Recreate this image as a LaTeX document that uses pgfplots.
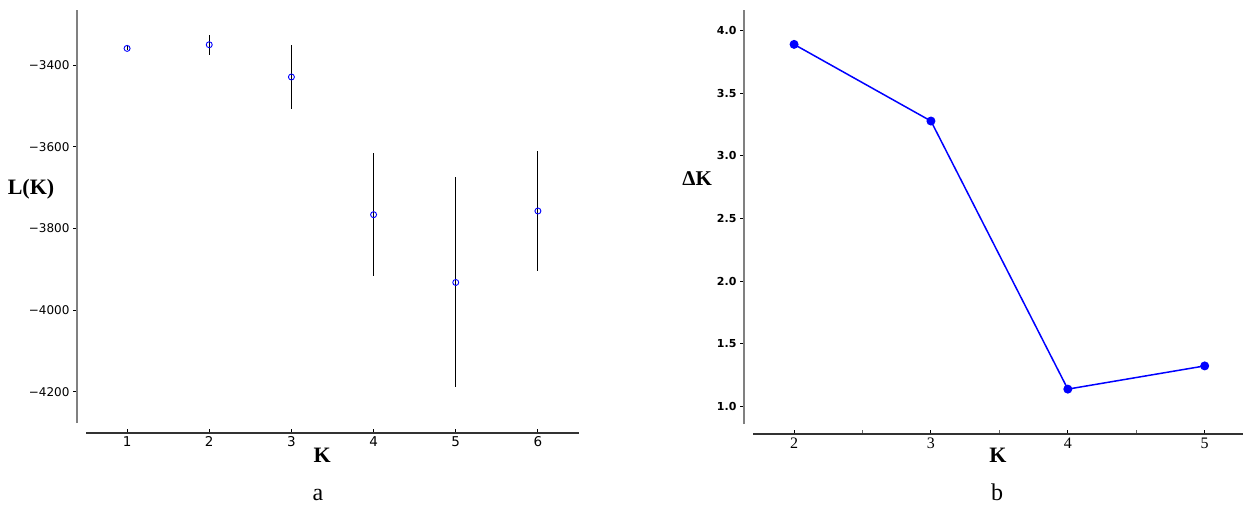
\documentclass[border=0pt]{standalone}
\usepackage{fontspec}
\setmainfont{Liberation Serif}
\newfontfamily\dejavu{DejaVu Sans}
\usepackage{pgfplots}
\pgfplotsset{compat=1.18}

\begin{document}
\begin{tikzpicture}
\path[use as bounding box] (0,0) rectangle (1244pt,507pt);

% panel a: L(K) with error bars
\begin{axis}[
  at={(86pt,84pt)}, anchor=south west, scale only axis,
  width=493pt, height=413pt,
  xmin=0.5, xmax=6.5, ymin=-4276, ymax=-3265,
  axis lines=left, axis x line shift=10pt, axis y line shift=9pt,
  x axis line style={-, black!80, line width=1.3pt},
  y axis line style={-, black!50, line width=1.3pt},
  xtick={1,...,6}, ytick={-4200,-4000,-3800,-3600,-3400},
  yticklabels={−4200,−4000,−3800,−3600,−3400},
  xtick align=inside, ytick align=outside, major tick length=4pt,
  tick style={black, line width=1pt},
  xticklabel style={font=\dejavu\fontsize{13.5}{15}\selectfont},
  yticklabel style={font=\dejavu\fontsize{12}{14}\selectfont},
  /pgf/number format/assume math mode=true,
  xlabel={\bfseries K},
  xlabel style={font=\fontsize{22}{26}\selectfont, at={(axis description cs:0.479,-0.0775)}, anchor=center},
  ylabel={\bfseries L(K)},
  ylabel style={font=\fontsize{22}{26}\selectfont, rotate=-90, at={(axis description cs:-0.1116,0.5666)}, anchor=center},
  clip=false]
\addplot[only marks, mark=o, mark size=3pt, mark options={blue, line width=0.9pt},
  error bars/.cd, y dir=both, y explicit, error mark=none,
  error bar style={black, line width=1pt}]
  coordinates {
  (1,-3359) +- (0,5)
  (2,-3350) +- (0,24)
  (3,-3429) +- (0,78)
  (4,-3766) +- (0,150)
  (5,-3932) +- (0,257)
  (6,-3757) +- (0,147)
  };
\end{axis}

% panel b: Delta K
\begin{axis}[
  at={(753pt,83pt)}, anchor=south west, scale only axis,
  width=490pt, height=414pt,
  xmin=1.7, xmax=5.28, ymin=0.862, ymax=4.162,
  axis lines=left, axis x line shift=10pt, axis y line shift=9pt,
  x axis line style={-, black!80, line width=1.3pt},
  y axis line style={-, black!50, line width=1.3pt},
  xtick={2,3,4,5}, minor xtick={2.5,3.5,4.5},
  ytick={1,1.5,2,2.5,3,3.5,4},
  yticklabels={1.0,1.5,2.0,2.5,3.0,3.5,4.0},
  xtick align=inside, ytick align=outside,
  major tick length=4pt, minor tick length=4pt,
  tick style={black, line width=1pt},
  minor tick style={black!60, line width=1pt},
  xticklabel style={font=\fontsize{16}{18}\selectfont},
  yticklabel style={font=\dejavu\bfseries\fontsize{11}{13}\selectfont},
  /pgf/number format/assume math mode=true,
  xlabel={\bfseries K},
  xlabel style={font=\fontsize{22}{26}\selectfont, at={(axis description cs:0.5,-0.075)}, anchor=center},
  ylabel={\bfseries ΔK},
  ylabel style={font=\fontsize{21}{25}\selectfont, rotate=-90, at={(axis description cs:-0.114,0.594)}, anchor=center},
  clip=false]
\addplot[blue, line width=1.5pt, mark=*, mark size=3.7pt, mark options={blue}]
  coordinates {(2,3.888) (3,3.277) (4,1.140) (5,1.325)};
\end{axis}

\node[font=\fontsize{24}{28}\selectfont, anchor=base] at (318pt,7pt) {a};
\node[font=\fontsize{24}{28}\selectfont, anchor=base] at (997pt,7pt) {b};
\end{tikzpicture}
\end{document}
